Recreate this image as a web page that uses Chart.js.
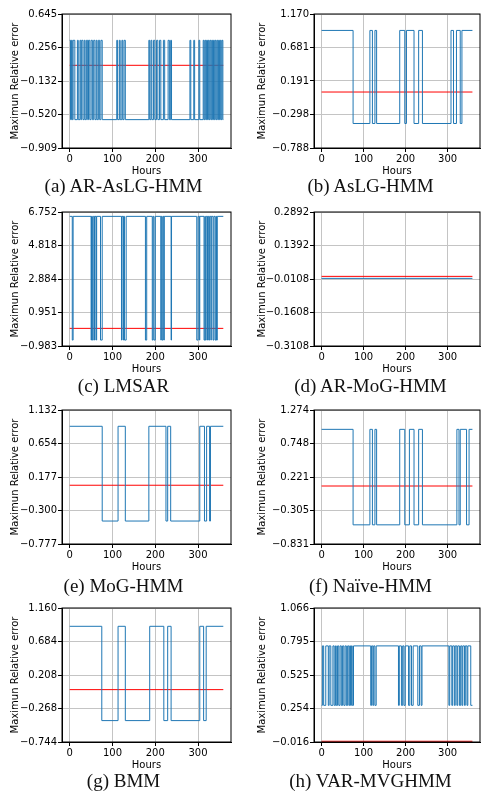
<!DOCTYPE html>
<html>
<head>
<meta charset="utf-8">
<script src="https://cdn.jsdelivr.net/npm/chart.js@4"></script>
<style>
  body { margin: 0; width: 494px; height: 803px; background: #fff; position: relative; overflow: hidden; }
  .cell { position: absolute; width: 247px; height: 171px; }
  .cap { position: absolute; width: 247px; text-align: center; font: 19px "Liberation Serif", serif; color: #111; }
</style>
</head>
<body>
<script>
// --- Data: switch times (hours) of the two-level step series, mean (red) line ---
const hoursEnd = 359;
const captions = ['(a) AR-AsLG-HMM', '(b) AsLG-HMM', '(c) LMSAR', '(d) AR-MoG-HMM',
                  '(e) MoG-HMM', '(f) Naïve-HMM', '(g) BMM', '(h) VAR-MVGHMM'];

const yTicksA = [-0.909, -0.520, -0.132, 0.256, 0.645];
const yTicksB = [-0.788, -0.298, 0.191, 0.681, 1.170];
const yTicksC = [-0.983, 0.951, 2.884, 4.818, 6.752];
const yTicksD = [-0.3108, -0.1608, -0.0108, 0.1392, 0.2892];
const yTicksE = [-0.777, -0.300, 0.177, 0.654, 1.132];
const yTicksF = [-0.831, -0.305, 0.221, 0.748, 1.274];
const yTicksG = [-0.744, -0.268, 0.208, 0.684, 1.160];
const yTicksH = [-0.016, 0.254, 0.525, 0.795, 1.066];

// levels: [high, low], first state, switches
const levelsA = [0.34, -0.58];
const switchesA = [2,4,6,8,12,18,20,24,26,28,31,34,36,39,42,44,47,50,53,56,59,62,64,67,70,73,76,
  110,112,116,118,122,124,127,130, 185,187,190,192,196,199,203,206,210,213,219,222,230,233,236,238,
  281,283,290,292,302,304,312,314,316,318,320,322,324,326,328,330,332,334,336,338,340,342,344,346,348,350,352,354,356,358];
const levelsB = [0.93, -0.43];
const switchesB = [75,115,121,127,131,186,198,202,220,231,240,308,314,321,330,334];
const levelsC = [6.5, -0.64];
const switchesC = [6,8,50,51,53,55,58,59,62,63,72,76,121,122,125,126,128,132,177,180,193,195,197,200,
  213,214,216,218,220,221,237,238,297,300,303,304,314,316,317,319,322,323,325,327,330,331,335,337,340,342,343,345];
const levelsD = [-0.008, -0.008];
const switchesD = [];
const levelsE = [0.9, -0.45];
const switchesE = [76,113,130,185,225,229,236,304,315,320,327,329];
const levelsF = [0.97, -0.53];
const switchesF = [75,115,121,127,131,186,198,209,220,231,240,322,327,330,345,351];
const levelsG = [0.9, -0.44];
const switchesG = [75,113,130,187,220,229,237,304,313,319];
const levelsH = [0.76, 0.28];
const switchesH = [2,5,10,16,18,22,27,30,33,35,38,41,44,47,50,53,56,59,62,65,67,69,71,73,76,
  117,119,122,124,127,130, 183,185,190,193,196,199,207,210,214,218,229,233,237,239,
  303,305,310,312,316,318,322,324,328,331,334,336,340,342,346,348,355];
const startLow = [false, false, false, false, false, false, false, true];
const meanLines = [0.05, 0.03, 0.035, 0.001, 0.06, 0.08, 0.0, -0.01];

const allTicks = [yTicksA, yTicksB, yTicksC, yTicksD, yTicksE, yTicksF, yTicksG, yTicksH];
const allLevels = [levelsA, levelsB, levelsC, levelsD, levelsE, levelsF, levelsG, levelsH];
const allSwitches = [switchesA, switchesB, switchesC, switchesD, switchesE, switchesF, switchesG, switchesH];

const rowTops = [14, 212, 410, 608];
const capY = [175, 375, 575, 770];

function stepPoints(levels, switches, low) {
  const pts = [];
  let state = low ? 1 : 0;
  pts.push({ x: 0, y: levels[state] });
  switches.forEach(t => { state = 1 - state; pts.push({ x: t, y: levels[state] }); });
  pts.push({ x: hoursEnd, y: levels[state] });
  return pts;
}

const frame = {
  id: 'frame',
  afterDraw(chart) {
    const a = chart.chartArea, c = chart.ctx;
    c.save(); c.strokeStyle = '#000'; c.lineWidth = 1;
    c.strokeRect(a.left, a.top, a.right - a.left, a.bottom - a.top);
    c.restore();
  }
};

for (let i = 0; i < 8; i++) {
  const col = i % 2, row = Math.floor(i / 2);
  const div = document.createElement('div');
  div.className = 'cell';
  div.style.left = (col * 247) + 'px';
  div.style.top = (rowTops[row] - 8) + 'px';
  const cv = document.createElement('canvas');
  div.appendChild(cv);
  document.body.appendChild(div);
  const cap = document.createElement('div');
  cap.className = 'cap';
  cap.style.left = (col * 247) + 'px';
  cap.style.top = capY[row] + 'px';
  cap.textContent = captions[i];
  document.body.appendChild(cap);

  const ticks = allTicks[i];
  const dec = i === 3 ? 4 : 3;
  new Chart(cv, {
    type: 'line',
    data: {
      datasets: [
        { data: stepPoints(allLevels[i], allSwitches[i], startLow[i]), stepped: true,
          borderColor: '#1f77b4', borderWidth: 1, pointRadius: 0 },
        { data: [{ x: 0, y: meanLines[i] }, { x: hoursEnd, y: meanLines[i] }],
          borderColor: '#ff0000', borderWidth: 1, pointRadius: 0 }
      ]
    },
    options: {
      responsive: true, maintainAspectRatio: false, animation: false,
      layout: { padding: { top: 8, right: col ? 14 : 16, left: 9, bottom: 0 } },
      plugins: { legend: { display: false }, tooltip: { enabled: false } },
      scales: {
        x: {
          type: 'linear', min: -18, max: 377,
          afterBuildTicks: s => { s.ticks = [0, 100, 200, 300].map(v => ({ value: v })); },
          afterFit: s => { s.height = 29; },
          grid: { color: '#c4c4c4', tickLength: 4, tickColor: '#000' },
          border: { color: '#000' },
          ticks: { color: '#000', font: { family: 'DejaVu Sans', size: 10 }, maxRotation: 0, padding: 1 },
          title: { display: true, text: 'Hours', color: '#000', font: { family: 'DejaVu Sans', size: 10 }, padding: 0 }
        },
        y: {
          min: ticks[0], max: ticks[4],
          afterBuildTicks: s => { s.ticks = ticks.map(v => ({ value: v })); },
          afterFit: s => { s.width = col ? 58 : 53; },
          grid: { color: '#c4c4c4', tickLength: 4, tickColor: '#000' },
          border: { color: '#000' },
          ticks: { color: '#000', font: { family: 'DejaVu Sans', size: 10 }, padding: 1,
                   callback: v => (v < 0 ? '\u2212' : '') + Math.abs(v).toFixed(dec) },
          title: { display: true, text: 'Maximun Relative error', color: '#000', font: { family: 'DejaVu Sans', size: 10 }, padding: 0 }
        }
      }
    },
    plugins: [frame]
  });
}
</script>
</body>
</html>
